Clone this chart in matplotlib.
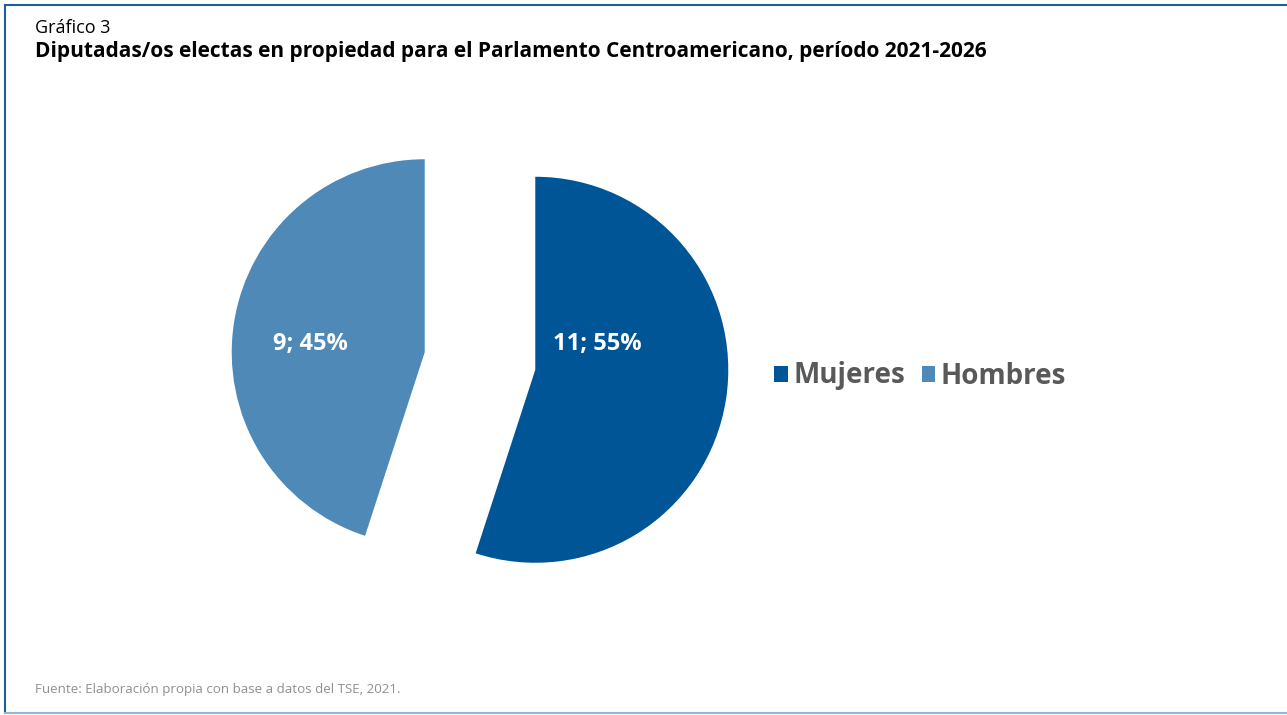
import matplotlib.pyplot as plt
from matplotlib.patches import Patch
from matplotlib.lines import Line2D

plt.rcParams['font.family'] = ['Open Sans', 'DejaVu Sans']

categorias = ['Mujeres', 'Hombres']
valores = [11, 9]
porcentajes = [55, 45]
colores = ['#005596', '#4E89B8']

fig = plt.figure(figsize=(12.87, 7.15), dpi=100)

# marco
fig.add_artist(Line2D([5/1287, 1], [1-5/715, 1-5/715], color='#1f5f99', lw=1.5))
fig.add_artist(Line2D([5/1287, 5/1287], [2/715, 1-5/715], color='#1f5f99', lw=1.5))
fig.add_artist(Line2D([5/1287, 1], [2/715, 2/715], color='#8fb8da', lw=1.5))

fig.text(35/1287, 1-28/715, 'Gráfico 3', fontsize=13, va='center', ha='left', color='black')
fig.text(35/1287, 1-52/715,
         'Diputadas/os electas en propiedad para el Parlamento Centroamericano, período 2021-2026',
         fontsize=15.0, fontweight='bold', va='center', ha='left', color='black')
fig.text(35/1287, 1-690/715, 'Fuente: Elaboración propia con base a datos del TSE, 2021.',
         fontsize=9.6, va='center', ha='left', color='#909090')

# pie
ax = fig.add_axes([180/1287, 1-661/715, 600/1287, 600/715])
wedges, textos = ax.pie(valores, colors=colores, startangle=90, counterclock=False,
                        explode=[0.29, 0.29], radius=1,
                        wedgeprops=dict(linewidth=0))
lim = 300/193
ax.set_xlim(-lim, lim)
ax.set_ylim(-lim, lim)
ax.set_aspect('equal')
ax.axis('off')

pos_etiquetas = [(0.606, 0.088), (-0.876, 0.088)]
for v, p, (x, y) in zip(valores, porcentajes, pos_etiquetas):
    ax.text(x, y, f'{v}; {p}%', color='white', fontsize=17, fontweight='bold',
            ha='center', va='center')

handles = [Patch(facecolor=c, edgecolor='none') for c in colores]
leg = fig.legend(handles, categorias, loc='center', bbox_to_anchor=(920/1287, 1-376/715),
                 ncol=2, frameon=False, handlelength=0.5, handleheight=0.5,
                 handletextpad=0.2, columnspacing=0.6,
                 prop=dict(size=20, weight='bold'))
for t in leg.get_texts():
    t.set_color('#595959')

fig.savefig('out.png', dpi=100)
